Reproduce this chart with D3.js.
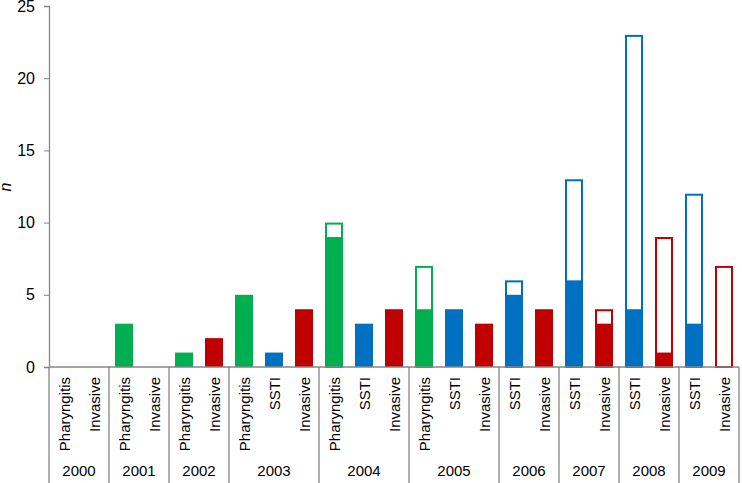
<!DOCTYPE html>
<html lang="en">
<head>
<meta charset="UTF-8">
<title>Cases by year and type</title>
<script src="https://d3js.org/d3.v7.min.js"></script>
<style>
    body { margin: 0; background: #fff; }
    svg text { font-family: "Liberation Sans", Arial, sans-serif; fill: #000; }
</style>
</head>
<body>
<svg id="chart"></svg>
<script>
// one entry per bar slot
const years    = ["2000","2000","2001","2001","2002","2002","2003","2003","2003","2004","2004","2004","2005","2005","2005","2006","2006","2007","2007","2008","2008","2009","2009"];
const types    = ["Pharyngitis","Invasive","Pharyngitis","Invasive","Pharyngitis","Invasive","Pharyngitis","SSTI","Invasive","Pharyngitis","SSTI","Invasive","Pharyngitis","SSTI","Invasive","SSTI","Invasive","SSTI","Invasive","SSTI","Invasive","SSTI","Invasive"];
const filled   = [0,0,3,0,1,2,5,1,4,9,3,4,4,4,3,5,4,6,3,4,1,3,0];
const totals   = [0,0,3,0,1,2,5,1,4,10,3,4,7,4,3,6,4,13,4,23,9,12,7];
const yTicks   = [0,5,10,15,20,25];

const colors = { Pharyngitis: "#00b050", SSTI: "#0070c0", Invasive: "#c00000" };

const W = 742, H = 483;
const plotLeft = 49, plotRight = 739, plotTop = 6, base = 367;

const svg = d3.select("#chart").attr("width", W).attr("height", H);

const slots = d3.range(years.length);
const x = d3.scaleBand().domain(slots).range([plotLeft, plotRight]).paddingInner(0.4).paddingOuter(0.2);
const y = d3.scaleLinear().domain([0, 25]).range([base, plotTop]);

// y axis
const yAxis = svg.append("g")
    .attr("transform", "translate(" + plotLeft + ",0)")
    .call(d3.axisLeft(y).tickValues(yTicks).tickSize(5).tickPadding(9));
yAxis.select(".domain").attr("stroke", "#868686").attr("stroke-width", 1.3);
yAxis.selectAll(".tick line").attr("stroke", "#868686");
yAxis.selectAll(".tick text").attr("font-size", 16).attr("fill", "#000");

svg.append("text")
    .attr("transform", "translate(11,187) rotate(-90)")
    .attr("text-anchor", "middle")
    .attr("font-size", 16)
    .attr("font-style", "italic")
    .text("n");

// bars: outline up to total, fill up to filled
slots.forEach(i => {
    const c = colors[types[i]];
    const bx = x(i), bw = x.bandwidth();
    if (totals[i] > filled[i]) {
        svg.append("rect")
            .attr("x", bx + 1).attr("y", y(totals[i]) + 1)
            .attr("width", bw - 2).attr("height", y(0) - y(totals[i]) - 1)
            .attr("fill", "#fff").attr("stroke", c).attr("stroke-width", 2);
    }
    if (filled[i] > 0) {
        svg.append("rect")
            .attr("x", bx).attr("y", y(filled[i]))
            .attr("width", bw).attr("height", y(0) - y(filled[i]))
            .attr("fill", c);
    }
});

// category axis
svg.append("line")
    .attr("x1", plotLeft).attr("x2", plotRight).attr("y1", base).attr("y2", base)
    .attr("stroke", "#868686").attr("stroke-width", 1.3);

// group boundaries are whole slot steps from the left edge
const step = x.step();
const groups = d3.groups(slots, i => years[i]);
const edges = [plotLeft];
let acc = 0;
groups.forEach(([yr, idx]) => { acc += idx.length; edges.push(plotLeft + acc * step); });

svg.selectAll(".sep").data(edges).enter().append("line")
    .attr("x1", d => d).attr("x2", d => d)
    .attr("y1", base).attr("y2", H)
    .attr("stroke", "#868686").attr("stroke-width", 1.3);

slots.forEach(i => {
    svg.append("text")
        .attr("transform", "translate(" + (x(i) + x.bandwidth() / 2 + 5.5) + ",377) rotate(-90)")
        .attr("text-anchor", "end")
        .attr("font-size", 15)
        .text(types[i]);
});

groups.forEach(([yr, idx], k) => {
    svg.append("text")
        .attr("x", (edges[k] + edges[k + 1]) / 2)
        .attr("y", 476)
        .attr("text-anchor", "middle")
        .attr("font-size", 15)
        .text(yr);
});
</script>
</body>
</html>
